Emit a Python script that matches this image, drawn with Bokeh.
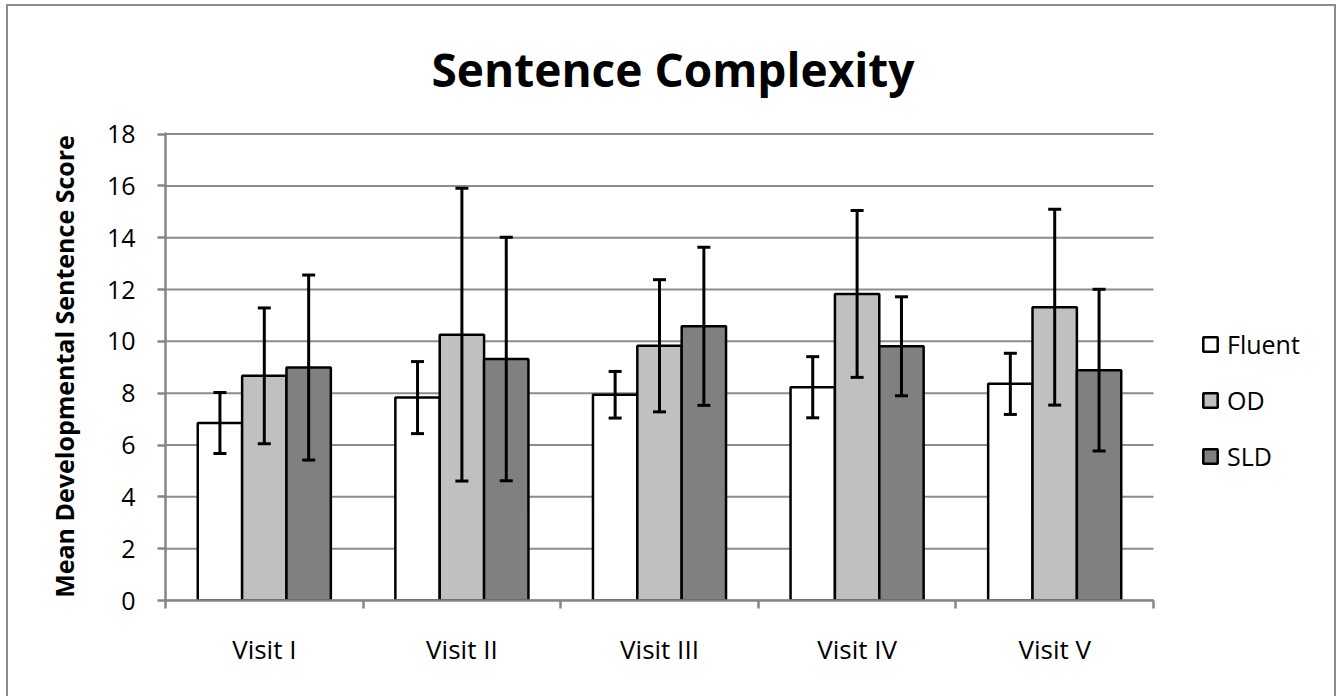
from bokeh.plotting import figure
from bokeh.models import (ColumnDataSource, Range1d, FixedTicker, Whisker, TeeHead,
                          Legend, LegendItem)
from bokeh.transform import dodge
from bokeh.embed import file_html
from bokeh.resources import INLINE

# ---- data ----
visits = ["Visit I", "Visit II", "Visit III", "Visit IV", "Visit V"]
series_names = ["Fluent", "OD", "SLD"]
fluent_mean = [6.85, 7.83, 7.94, 8.23, 8.36]
fluent_sd = [1.18, 1.39, 0.90, 1.18, 1.18]
od_mean = [8.67, 10.26, 9.83, 11.83, 11.32]
od_sd = [2.62, 5.65, 2.55, 3.22, 3.78]
sld_mean = [8.99, 9.32, 10.58, 9.81, 8.89]
sld_sd = [3.57, 4.70, 3.05, 1.91, 3.12]
y_ticks = [0, 2, 4, 6, 8, 10, 12, 14, 16, 18]

title_text = "Sentence Complexity"
y_label_text = "Mean Developmental Sentence Score"

# ---- style / layout ----
FONT = "Open Sans"
GRID = "#8c8c8c"
AXIS = "#868686"
fills = ["#ffffff", "#c0c0c0", "#808080"]
W, H = 1342, 696
PLOT_LEFT, PLOT_RIGHT = 165, 1153   # pixel extent of the category area

means = [fluent_mean, od_mean, sld_mean]
sds = [fluent_sd, od_sd, sld_sd]
n_cat = len(visits)

centers = [i + 0.5 for i in range(n_cat)]
data = {"x": centers}
for name, m, s in zip(series_names, means, sds):
    data[name] = m
    data[name + "_up"] = [a + b for a, b in zip(m, s)]
    data[name + "_lo"] = [a - b for a, b in zip(m, s)]
src = ColumnDataSource(data)

# the frame runs to the right edge so the legend (inside it) is not clipped
x_end = n_cat * (W - PLOT_LEFT) / (PLOT_RIGHT - PLOT_LEFT)

p = figure(width=W, height=H, output_backend="svg", toolbar_location=None,
           x_range=Range1d(0, x_end), y_range=Range1d(0, 18.06),
           min_border_left=PLOT_LEFT, min_border_right=0,
           min_border_top=132, min_border_bottom=96,
           title=title_text)
p.outline_line_color = None
p.background_fill_color = None
p.border_fill_color = None

# outer chart frame (left, top, right edges) drawn as CSS backgrounds behind the canvas
g = "linear-gradient(#8c8c8c, #8c8c8c)"
p.styles = {
    "background-color": "white",
    "background-image": f"{g}, {g}, {g}",
    "background-position": "6px 4px, 6px 4px, 1334px 4px",
    "background-size": "2px 700px, 1330px 2px, 2px 700px",
    "background-repeat": "no-repeat",
}

# title
p.title.text_font = FONT
p.title.text_font_style = "bold"
p.title.text_font_size = "46px"
p.title.text_color = "black"
p.title.align = "left"
p.title.offset = 266
p.title.standoff = 66

# horizontal grid lines over the category area only
p.segment(x0=[0] * len(y_ticks), x1=[n_cat] * len(y_ticks), y0=y_ticks, y1=y_ticks,
          line_color=GRID, line_width=2)

bw = 0.2245
offsets = [-bw, 0.0, bw]

renderers = []
for name, off, col in zip(series_names, offsets, fills):
    r = p.vbar(x=dodge("x", off), top=name, width=bw, source=src,
               fill_color=col, line_color="black", line_width=2.5)
    renderers.append(r)

for name, off in zip(series_names, offsets):
    w = Whisker(base=dodge("x", off), upper=name + "_up", lower=name + "_lo",
                source=src, dimension="height", line_color="black", line_width=3,
                upper_head=TeeHead(size=13, line_color="black", line_width=3),
                lower_head=TeeHead(size=13, line_color="black", line_width=3),
                level="overlay")
    p.add_layout(w)

# y axis
p.yaxis.ticker = FixedTicker(ticks=y_ticks)
p.yaxis.major_tick_out = 8
p.yaxis.major_tick_in = 0
p.yaxis.minor_tick_line_color = None
p.yaxis.axis_line_color = AXIS
p.yaxis.axis_line_width = 2.5
p.yaxis.major_tick_line_color = AXIS
p.yaxis.major_tick_line_width = 2.5
p.yaxis.major_label_standoff = 22
p.yaxis.major_label_text_font = FONT
p.yaxis.major_label_text_font_size = "25px"
p.yaxis.major_label_text_color = "black"
p.yaxis.axis_label = y_label_text
p.yaxis.axis_label_text_font = FONT
p.yaxis.axis_label_text_font_style = "bold"
p.yaxis.axis_label_text_font_size = "25px"
p.yaxis.axis_label_text_color = "black"
p.yaxis.axis_label_standoff = 23

# x axis: labels at category centres, tick marks at boundaries
p.xaxis.bounds = (0, n_cat)
p.xaxis.ticker = FixedTicker(ticks=centers, minor_ticks=list(range(n_cat + 1)))
p.xaxis.major_label_overrides = {c: v for c, v in zip(centers, visits)}
p.xaxis.major_tick_in = 0
p.xaxis.major_tick_out = 0
p.xaxis.major_tick_line_color = None
p.xaxis.minor_tick_in = 0
p.xaxis.minor_tick_out = 8
p.xaxis.minor_tick_line_color = AXIS
p.xaxis.minor_tick_line_width = 2.5
p.xaxis.axis_line_color = AXIS
p.xaxis.axis_line_width = 2.5
p.xaxis.major_label_standoff = 22
p.xaxis.major_label_text_font = FONT
p.xaxis.major_label_text_font_size = "26px"
p.xaxis.major_label_text_color = "black"

p.xgrid.grid_line_color = None
p.ygrid.grid_line_color = None

# legend (inside the extended frame, right of the bars)
lg = Legend(items=[LegendItem(label=n, renderers=[r]) for n, r in zip(series_names, renderers)],
            location=(1036, 127), padding=0, margin=0,
            border_line_color=None, background_fill_alpha=0,
            glyph_width=18, glyph_height=18, label_standoff=8, spacing=22,
            label_text_font=FONT, label_text_font_size="25px", label_text_color="black")
p.add_layout(lg)

open("out.html", "w").write(file_html(p, INLINE))
